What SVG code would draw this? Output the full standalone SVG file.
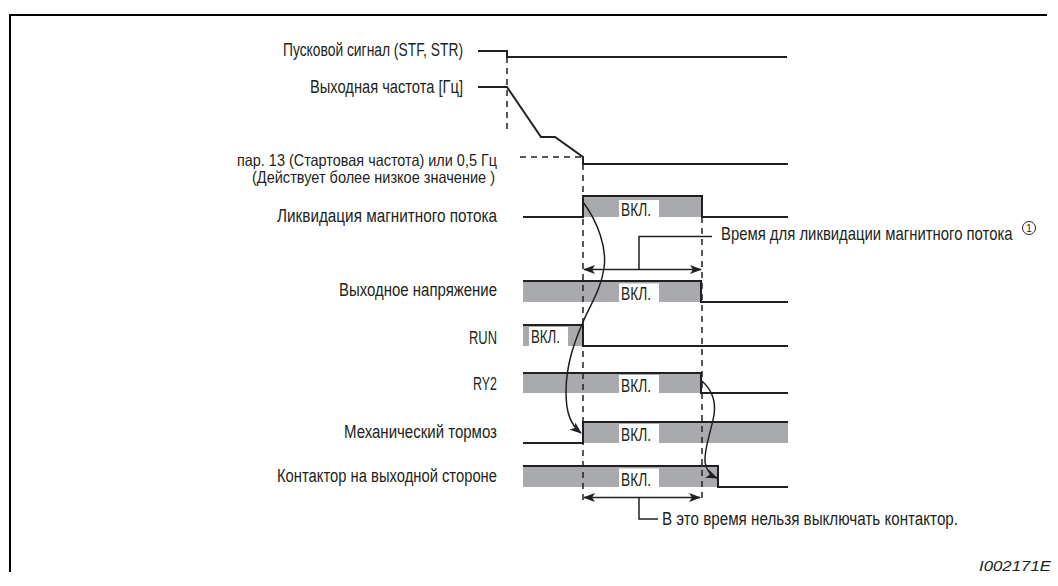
<svg xmlns="http://www.w3.org/2000/svg" width="1058" height="586" viewBox="0 0 1058 586">
<style>
  .t{font-family:"Liberation Sans",Arial,sans-serif;font-size:18px;fill:#231f20}
  .s{font-family:"Liberation Sans",Arial,sans-serif;font-size:16.5px;fill:#231f20}
  .sig{fill:none;stroke:#231f20;stroke-width:2}
  .dash{fill:none;stroke:#231f20;stroke-width:1.5;stroke-dasharray:6 5}
  .thin{fill:none;stroke:#231f20;stroke-width:1.5}
  .g{fill:#a8aaad}
  .w{fill:#ffffff}
</style>
<defs>
  <marker id="ah" viewBox="0 0 12 10" refX="11" refY="5" markerWidth="12" markerHeight="10" markerUnits="userSpaceOnUse" orient="auto-start-reverse">
    <path d="M0,0.5 L12,5 L0,9.5 L3,5 z" fill="#231f20"/>
  </marker>
</defs>
<rect width="1058" height="586" fill="#ffffff"/>
<g id="frame">
  <path d="M10,572 L10,15 L1047,15" fill="none" stroke="#000" stroke-width="2"/>
</g>

<g id="start-signal">
  <text class="t" x="283" y="56" textLength="180" lengthAdjust="spacingAndGlyphs">Пусковой сигнал (STF, STR)</text>
  <path class="sig" d="M478,51 L507,51 L507,57 L787,57"/>
</g>

<g id="output-frequency">
  <text class="t" x="310" y="93" textLength="153" lengthAdjust="spacingAndGlyphs">Выходная частота [Гц]</text>
  <path class="sig" d="M478,87 L507,87 L541,137 L555,137 L583,157 L583,164 L788,164"/>
</g>

<g id="start-frequency">
  <text class="s" x="237" y="166" textLength="260" lengthAdjust="spacingAndGlyphs">пар. 13 (Стартовая частота) или 0,5 Гц</text>
  <text class="s" x="252" y="182.5" textLength="243" lengthAdjust="spacingAndGlyphs">(Действует более низкое значение )</text>
</g>

<g id="flux-elimination">
  <text class="t" x="277" y="222" textLength="220" lengthAdjust="spacingAndGlyphs">Ликвидация магнитного потока</text>
  <rect class="g" x="583" y="196" width="119" height="21"/>
  <rect class="w" x="619" y="200" width="40" height="17"/>
  <text class="t" x="621" y="215.5" textLength="30" lengthAdjust="spacingAndGlyphs">ВКЛ.</text>
  <path class="sig" d="M523,217 L583,217 L583,196 L702,196 L702,217 L788,217"/>
</g>

<g id="output-voltage">
  <text class="t" x="339" y="296" textLength="158" lengthAdjust="spacingAndGlyphs">Выходное напряжение</text>
  <rect class="g" x="523" y="281" width="178" height="21"/>
  <rect class="w" x="619" y="283.5" width="40" height="18.5"/>
  <text class="t" x="621" y="300" textLength="30" lengthAdjust="spacingAndGlyphs">ВКЛ.</text>
  <path class="sig" d="M523,281 L701,281 L701,302 L788,302"/>
</g>

<g id="run">
  <text class="t" x="469" y="344" textLength="28" lengthAdjust="spacingAndGlyphs">RUN</text>
  <rect class="g" x="523" y="325" width="60" height="21"/>
  <rect class="w" x="529" y="327" width="39" height="19"/>
  <text class="t" x="531" y="343" textLength="29" lengthAdjust="spacingAndGlyphs">ВКЛ.</text>
  <path class="sig" d="M523,325 L583,325 L583,346 L788,346"/>
</g>

<g id="ry2">
  <text class="t" x="473" y="390" textLength="24" lengthAdjust="spacingAndGlyphs">RY2</text>
  <rect class="g" x="523" y="373" width="178" height="20"/>
  <rect class="w" x="619" y="375" width="40" height="18"/>
  <text class="t" x="621" y="392" textLength="30" lengthAdjust="spacingAndGlyphs">ВКЛ.</text>
  <path class="sig" d="M523,373 L701,373 L701,393 L788,393"/>
</g>

<g id="mechanical-brake">
  <text class="t" x="344" y="438" textLength="153" lengthAdjust="spacingAndGlyphs">Механический тормоз</text>
  <rect class="g" x="583" y="422" width="205" height="21"/>
  <rect class="w" x="619" y="424" width="40" height="19"/>
  <text class="t" x="621" y="441" textLength="30" lengthAdjust="spacingAndGlyphs">ВКЛ.</text>
  <path class="sig" d="M523,443 L583,443 L583,422 L788,422"/>
</g>

<g id="output-contactor">
  <text class="t" x="277" y="482" textLength="220" lengthAdjust="spacingAndGlyphs">Контактор на выходной стороне</text>
  <rect class="g" x="523" y="466" width="195" height="21"/>
  <rect class="w" x="619" y="468.5" width="40" height="18.5"/>
  <text class="t" x="621" y="485.5" textLength="30" lengthAdjust="spacingAndGlyphs">ВКЛ.</text>
  <path class="sig" d="M523,466 L718,466 L718,487 L788,487"/>
</g>

<g id="connectors">
  <path class="dash" d="M507,57 L507,133"/>
  <path class="dash" d="M520,157 L583,157"/>
  <path class="dash" d="M583,164 L583,502"/>
  <path class="dash" d="M702,217 L702,502"/>
  <path class="thin" d="M583,202 C598,222 607,248 604,268 C601,290 590,305 583,322 C574,343 566,365 566,392 C566,412 570,424 581,433" marker-end="url(#ah)"/>
  <path class="thin" d="M702,381 C712,390 716,402 714,415 C711,432 704,448 705,462 C706,470 710,475 717,478" marker-end="url(#ah)"/>
  <path class="thin" d="M584,269.5 L701,269.5" marker-start="url(#ah)" marker-end="url(#ah)"/>
  <path class="thin" d="M639,269.5 L639,236.5 L712,236.5"/>
  <path class="thin" d="M584,497.5 L700,497.5" marker-start="url(#ah)" marker-end="url(#ah)"/>
  <path class="thin" d="M639,497.5 L639,519 L658,519"/>
</g>

<g id="notes">
  <text class="t" transform="translate(721,240) scale(0.85,1)" x="0" y="0" textLength="343" lengthAdjust="spacingAndGlyphs">Время для ликвидации магнитного потока</text>
  <circle cx="1029" cy="228" r="6.5" fill="none" stroke="#231f20" stroke-width="1"/>
  <text x="1029" y="231.5" text-anchor="middle" font-family="Liberation Sans,Arial,sans-serif" font-size="10" fill="#231f20">1</text>
  <text class="t" x="662" y="525" textLength="296" lengthAdjust="spacingAndGlyphs">В это время нельзя выключать контактор.</text>
  <text x="979" y="571" font-family="Liberation Sans,Arial,sans-serif" font-style="italic" font-size="15" fill="#231f20" textLength="72" lengthAdjust="spacingAndGlyphs">I002171E</text>
</g>
</svg>
